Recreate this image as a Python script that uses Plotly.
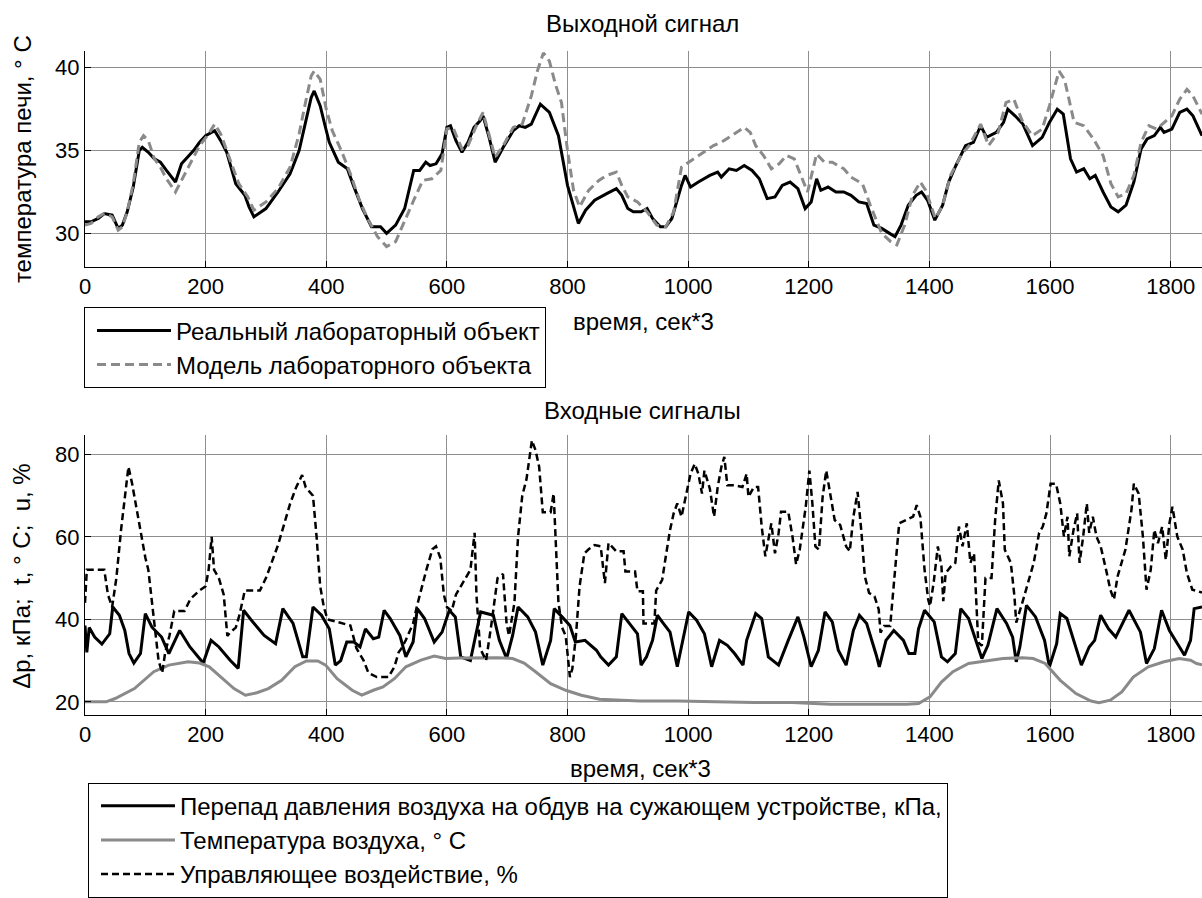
import plotly.graph_objects as go

# ---------------- data ----------------
real_t = [0,10,22,32,45,55,62,70,80,90,95,105,115,125,135,150,160,170,180,190,200,215,225,235,250,265,272,280,300,320,340,355,365,375,380,390,398,405,420,435,445,460,475,490,500,515,530,545,555,565,572,582,592,600,606,615,625,635,645,655,660,670,680,695,710,720,730,740,745,755,770,785,800,810,818,830,845,865,881,890,900,909,922,932,941,954,963,973,979,989,995,1004,1017,1027,1036,1049,1055,1068,1080,1093,1106,1118,1131,1144,1156,1169,1182,1194,1204,1213,1220,1232,1245,1258,1270,1283,1296,1308,1321,1334,1343,1353,1365,1378,1387,1397,1409,1422,1432,1444,1460,1473,1485,1495,1511,1523,1530,1542,1555,1571,1587,1599,1612,1622,1634,1644,1656,1666,1675,1688,1701,1713,1726,1739,1751,1761,1773,1783,1789,1802,1815,1827,1837,1852]
real_v = [30.7,30.7,30.9,31.2,31.1,30.3,30.5,31.3,32.8,35.0,35.2,34.9,34.5,34.3,33.8,33.1,34.2,34.6,35.0,35.5,35.9,36.2,35.6,34.9,33.0,32.3,31.6,31.0,31.5,32.5,33.6,35.0,36.7,38.2,38.6,37.7,36.5,35.5,34.3,33.9,32.9,31.5,30.4,30.4,30.0,30.5,31.5,33.8,33.8,34.3,34.1,34.2,34.8,36.4,36.5,35.6,34.9,35.5,36.4,36.8,37.1,35.8,34.3,35.3,36.2,36.5,36.4,36.6,37.0,37.8,37.3,35.9,32.9,31.7,30.6,31.4,32.0,32.4,32.7,32.3,31.5,31.3,31.3,31.5,30.9,30.4,30.4,30.9,31.7,32.9,33.5,32.8,33.1,33.3,33.5,33.7,33.4,33.9,33.8,34.1,33.8,33.3,32.1,32.2,32.9,33.1,32.7,31.5,31.9,33.3,32.6,32.8,32.5,32.5,32.3,31.9,31.8,30.5,30.3,30.0,29.8,30.5,31.7,32.3,32.5,32.0,30.8,31.7,33.1,34.1,35.3,35.5,36.5,35.8,36.1,36.7,37.5,37.1,36.6,35.3,35.8,36.7,37.5,37.2,34.5,33.7,33.9,33.3,33.5,32.5,31.6,31.3,31.7,33.1,35.1,35.7,35.9,36.4,36.1,36.3,37.3,37.5,37.1,35.9]

model_t = [0,10,22,32,45,55,62,70,80,90,97,105,115,125,135,150,160,175,190,205,215,225,240,255,270,280,300,320,340,355,365,375,380,390,400,410,425,440,455,470,485,500,515,530,545,560,575,590,600,610,625,635,650,660,670,680,695,710,725,740,750,760,770,780,790,800,810,820,835,852,865,881,890,900,916,932,948,963,976,989,1001,1017,1030,1042,1055,1068,1080,1093,1103,1112,1125,1138,1151,1163,1176,1185,1198,1213,1226,1239,1258,1270,1289,1302,1321,1336,1346,1359,1372,1385,1394,1410,1422,1435,1454,1466,1485,1498,1514,1527,1540,1555,1571,1587,1599,1615,1624,1640,1656,1672,1688,1701,1713,1726,1739,1751,1764,1777,1789,1802,1815,1827,1837,1852]
model_v = [30.5,30.6,31.0,31.2,31.0,30.2,30.4,31.3,33.0,35.5,35.9,35.6,34.5,34.0,33.3,32.5,33.2,34.3,35.3,36.0,36.6,36.0,34.5,33.0,32.2,31.4,31.9,32.7,34.0,36.0,37.8,39.5,39.8,39.3,37.5,36.2,35.0,33.6,32.0,30.8,29.8,29.2,29.5,30.8,32.0,33.2,33.3,33.8,36.3,36.4,35.1,35.3,36.6,37.3,36.0,34.6,35.4,36.4,36.6,38.3,39.8,40.9,40.4,39.0,37.9,35.0,32.6,31.6,32.6,33.2,33.5,33.7,32.9,32.2,31.9,31.3,30.5,30.4,31.3,34.0,34.3,34.7,35.0,35.3,35.5,35.8,36.1,36.4,36.1,35.3,34.7,33.9,34.2,34.7,34.5,33.7,32.5,34.8,34.3,34.3,33.9,33.4,33.0,31.7,30.0,29.5,29.3,30.5,32.3,33.1,32.6,30.9,31.7,33.5,34.8,35.3,36.6,35.3,36.1,37.9,38.1,36.7,35.9,36.3,37.7,39.8,39.3,36.7,36.5,35.7,34.7,33.0,32.2,32.4,33.5,35.5,36.5,36.3,36.7,37.1,38.1,38.7,38.3,37.2]

press_t = [0,3,7,16,28,41,46,57,66,73,81,92,100,111,127,139,157,174,196,209,222,241,254,263,278,297,316,328,345,361,367,378,392,405,415,424,434,446,456,465,478,487,496,506,522,532,544,551,563,579,592,604,614,623,639,656,677,687,699,709,718,734,747,759,772,778,791,804,813,829,848,855,868,881,890,903,916,922,931,941,949,957,970,982,992,1001,1014,1027,1039,1052,1065,1077,1091,1097,1112,1122,1133,1150,1166,1182,1192,1204,1216,1227,1239,1249,1262,1274,1284,1296,1312,1317,1328,1341,1357,1366,1376,1382,1392,1408,1420,1430,1443,1452,1465,1477,1487,1497,1512,1528,1538,1544,1550,1561,1576,1591,1599,1611,1617,1628,1642,1652,1665,1674,1684,1697,1709,1731,1750,1760,1773,1785,1798,1814,1823,1833,1839,1852]
press_v = [38.5,32,38,35.7,34,36.5,43,41,37.3,31.7,29.4,31.7,41.4,38.1,35.7,31.7,37.3,33.3,29.4,34.9,33.3,30,28.1,42.2,39.4,36.1,34.1,42.6,39,30.9,30.9,43,41,37.7,28.9,30,34.5,34.5,33.3,37.7,35.3,35.7,42.2,40.2,36.1,30.9,34.5,42.6,40.2,34.5,36.9,42.2,40.6,30.9,30,41.8,41,34.9,30.5,36.1,43,40.6,36.9,28.9,34.9,42.6,40.6,38.5,34.5,34.9,32.5,30.9,28.9,30.9,41.4,39,36.5,28.9,30.9,34.9,41,39.4,36.9,28.5,35.7,41.8,39.8,36.5,28.5,34.9,33.7,31.7,28.9,34.9,41.4,40.2,30.9,28.9,34.9,40.6,35.7,28.5,32.5,41.8,39.4,32.5,28.9,37.3,41,39,31.3,28.5,34.9,37.3,34.9,31.7,31.7,37.7,42.2,39.4,30.9,29.7,31.7,42.6,40.2,34.9,30.5,33.7,42.6,39,35.7,29.7,33.3,43.4,40.6,34.9,28.5,34.1,41.4,40.2,33.3,28.9,33.3,34.9,41,37.7,35.7,42.2,36.9,29.3,32.9,42.2,37.3,33.3,31.3,34.9,42.6,43]

air_t = [0,35,50,82,114,139,171,190,206,228,247,266,285,304,326,348,367,386,399,418,443,459,478,494,513,532,557,579,598,620,652,684,709,728,747,772,797,823,853,919,982,1046,1109,1173,1236,1300,1363,1382,1401,1420,1439,1465,1490,1522,1554,1572,1592,1617,1643,1668,1681,1700,1719,1738,1763,1789,1814,1833,1843,1852]
air_v = [20,20,20.8,23.2,27.3,28.9,29.7,29.4,28.5,25.6,23.2,21.6,22.2,23.2,25.2,28.5,29.9,29.9,28.9,25.6,22.8,21.6,22.8,23.6,25.6,28.5,30.1,31.1,30.5,30.6,30.7,30.7,30.5,29.4,27.3,24.4,22.8,21.6,20.6,20.2,20.2,20.0,19.8,19.8,19.4,19.4,19.4,19.6,21.2,24.8,27.3,29.3,29.9,30.5,30.7,30.5,29.3,25.2,22.0,20.2,19.8,20.4,22.4,26.0,28.5,29.7,30.5,30.1,29.3,29.0]

ctrl_t = [0,3,32,38,45,52,60,66,72,78,85,93,100,105,110,115,122,128,133,140,148,165,175,190,200,205,210,214,222,230,236,242,250,256,265,290,300,310,320,330,340,350,360,366,378,384,390,396,402,415,430,440,450,462,470,484,503,513,520,525,532,540,544,550,557,566,576,582,589,595,600,608,615,623,630,639,646,649,655,665,674,684,693,699,703,712,718,725,732,737,741,747,753,759,766,772,777,782,785,791,797,804,808,814,820,828,835,845,855,862,868,881,893,896,912,916,925,926,944,947,957,963,970,976,982,989,995,1004,1011,1017,1023,1027,1036,1043,1049,1055,1060,1065,1077,1090,1097,1100,1109,1116,1122,1128,1138,1144,1150,1154,1166,1173,1179,1185,1195,1201,1206,1211,1217,1223,1229,1236,1243,1252,1262,1268,1274,1281,1287,1293,1300,1309,1316,1319,1325,1335,1341,1347,1350,1363,1373,1379,1385,1392,1398,1401,1407,1414,1420,1423,1427,1436,1443,1449,1455,1462,1468,1474,1481,1487,1493,1503,1509,1515,1522,1525,1535,1541,1544,1554,1563,1573,1582,1588,1594,1601,1610,1617,1623,1629,1632,1639,1645,1649,1655,1661,1665,1671,1677,1684,1693,1700,1706,1712,1725,1735,1739,1747,1754,1760,1767,1773,1779,1786,1792,1798,1803,1811,1820,1827,1836,1852]
ctrl_v = [44,52,52,46,43,50,62,70,77,73,67,60,55,52,46,39,30,27,32,36,42,42,45,47,48,52,60,52,50,46,36,37,38,41,47,47,50,54,58,63,68,72,75,72,70,60,48,43,40,39.5,39,38.5,33,30,27,26,26,28.5,32,33,35,38,39,43,47,52,57,57.7,55,46,43,42,46,48,50,52,61,46,33,30,39,50,51,39,36,44,60,70,74,79,83.4,81,77,66,66,66,70.5,56,44,38,36,26,28,36,48,56,57,58,57.7,48.8,58.5,56.5,56.5,51.6,51.6,46.8,46.8,39,39,47,49.6,55.3,61.7,65.7,68.1,64.9,68.9,75.3,77.7,75.3,70.5,76.1,71.7,64.9,72.1,76.9,79.4,72.5,72.5,72.1,75.3,69.7,72.1,72.1,62.5,55.3,63.3,56,60.9,66.1,66.1,60.1,53.3,56.9,67.3,76.1,68.1,57.7,56.9,69.7,76.1,69.7,64.1,62.9,57.7,56.5,64.9,70.9,61.7,50.4,46.4,45.6,42.4,36.8,38.4,38.4,49.6,58.5,63.3,64.1,64.9,67.7,64.9,52,44.8,43.2,48.8,57.7,52.9,44.4,51.2,52.9,53.7,62.5,57.7,63.3,53.7,56,34.4,33.6,50,50,64.1,73.7,68.1,56.9,53.7,45.6,39.2,44,48.8,53.7,61,62.5,65.7,72.9,72.9,68.1,60.1,64.9,55.3,61.7,65.7,53.7,60.1,68.1,61,64.9,60.1,57.7,52,47.2,44.8,50.4,56.9,66.5,72.9,70.5,60.1,47.2,52,61.7,58.5,62.5,54.4,63.3,67.3,60.1,56.9,51.2,47.2,46.5]

x_ticks = [0, 200, 400, 600, 800, 1000, 1200, 1400, 1600, 1800]
top_yticks = [30, 35, 40]
bot_yticks = [20, 40, 60, 80]

top_title = "Выходной сигнал"
bot_title = "Входные сигналы"
x_label = "время, сек*3"
top_ylabel = "температура печи, ° С"
bot_ylabel = "Δp, кПа;\u00a0\u00a0t, ° C;\u00a0\u00a0u, %"
name_real = "Реальный лабораторный объект"
name_model = "Модель лабораторного объекта"
name_press = "Перепад давления воздуха на обдув на сужающем устройстве, кПа,"
name_air = "Температура воздуха, ° C"
name_ctrl = "Управляющее воздействие, %"

# ---------------- figure ----------------
W, H = 1202, 898
FONT = "Liberation Sans, Arial, sans-serif"
FS = 24      # titles, labels, legend
FS_TICK = 22
GRAY = "#8a8a8a"
GRID = "#8e8e8e"


def px_x(p):
    return p / W


def px_y(p):
    return 1 - p / H


left = px_x(85)
top_dom = [px_y(268), px_y(51.5)]
bot_dom = [px_y(719), px_y(437.5)]
XR = [0, 1852]

fig = go.Figure()

fig.add_trace(go.Scatter(x=real_t, y=real_v, mode="lines", name=name_real,
                         line=dict(color="black", width=3),
                         xaxis="x", yaxis="y", legend="legend", legendgroup="a"))
fig.add_trace(go.Scatter(x=model_t, y=model_v, mode="lines", name=name_model,
                         line=dict(color=GRAY, width=3, dash="9px,5px"),
                         xaxis="x", yaxis="y", legend="legend", legendgroup="b"))

fig.add_trace(go.Scatter(x=press_t, y=press_v, mode="lines", name=name_press,
                         line=dict(color="black", width=3),
                         xaxis="x2", yaxis="y2", legend="legend2", legendgroup="c"))
fig.add_trace(go.Scatter(x=air_t, y=air_v, mode="lines", name=name_air,
                         line=dict(color=GRAY, width=3),
                         xaxis="x2", yaxis="y2", legend="legend2", legendgroup="d"))
fig.add_trace(go.Scatter(x=ctrl_t, y=ctrl_v, mode="lines", name=name_ctrl,
                         line=dict(color="black", width=2.5, dash="7px,4px"),
                         xaxis="x2", yaxis="y2", legend="legend2", legendgroup="e"))

axis_common = dict(ticks="inside", ticklen=6, tickcolor="black", showline=True,
                   linecolor="black", linewidth=1, showgrid=True, gridcolor=GRID,
                   gridwidth=1, zeroline=False, automargin=False,
                   tickfont=dict(family=FONT, size=FS_TICK, color="black"))
top_ticks = dict(ticks="inside", ticklen=6, tickcolor="black", showline=False,
                 showgrid=False, zeroline=False, showticklabels=False,
                 side="top", automargin=False, range=XR,
                 tickmode="array", tickvals=x_ticks)

legend_common = dict(xanchor="left", yanchor="top", bgcolor="white",
                     bordercolor="black", borderwidth=1,
                     font=dict(family=FONT, size=FS, color="black"),
                     itemwidth=74, tracegroupgap=2, traceorder="normal",
                     indentation=7)

fig.update_layout(
    width=W, height=H, autosize=False,
    template="none",
    paper_bgcolor="white", plot_bgcolor="white",
    margin=dict(l=0, r=0, t=0, b=0),
    font=dict(family=FONT, size=FS, color="black"),
    hovermode=False,
    xaxis=dict(domain=[left, 1], range=XR, anchor="y", tickmode="array",
               tickvals=x_ticks, **axis_common),
    yaxis=dict(domain=top_dom, range=[28, 41], anchor="x", tickmode="array",
               tickvals=top_yticks, **axis_common),
    xaxis3=dict(overlaying="x", anchor="y", **top_ticks),
    xaxis2=dict(domain=[left, 1], range=XR, anchor="y2", tickmode="array",
                tickvals=x_ticks, **axis_common),
    yaxis2=dict(domain=bot_dom, range=[16.8, 84.7], anchor="x2", tickmode="array",
                tickvals=bot_yticks, **axis_common),
    xaxis4=dict(overlaying="x2", anchor="y2", **top_ticks),
    legend=dict(x=px_x(84), y=px_y(309), **legend_common),
    legend2=dict(x=px_x(88), y=px_y(787), **legend_common),
    showlegend=True,
)

ann = dict(xref="paper", yref="paper", showarrow=False,
           font=dict(family=FONT, size=FS, color="black"))
fig.add_annotation(text=top_title, x=px_x(642), y=px_y(24), xanchor="center", yanchor="middle", **ann)
fig.add_annotation(text=bot_title, x=px_x(642), y=px_y(413), xanchor="center", yanchor="middle", **ann)
fig.add_annotation(text=x_label, x=px_x(643), y=px_y(323), xanchor="center", yanchor="middle", **ann)
fig.add_annotation(text=x_label, x=px_x(640), y=px_y(773), xanchor="center", yanchor="middle", **ann)
fig.add_annotation(text=top_ylabel, x=px_x(22), y=px_y(160), xanchor="center", yanchor="middle",
                   textangle=-90, **ann)
fig.add_annotation(text=bot_ylabel, x=px_x(22), y=px_y(580), xanchor="center", yanchor="middle",
                   textangle=-90, **ann)

fig.write_html("out.html",
               config={"displayModeBar": False},
               post_script="document.body.style.margin='0';document.body.style.overflow='hidden';")
